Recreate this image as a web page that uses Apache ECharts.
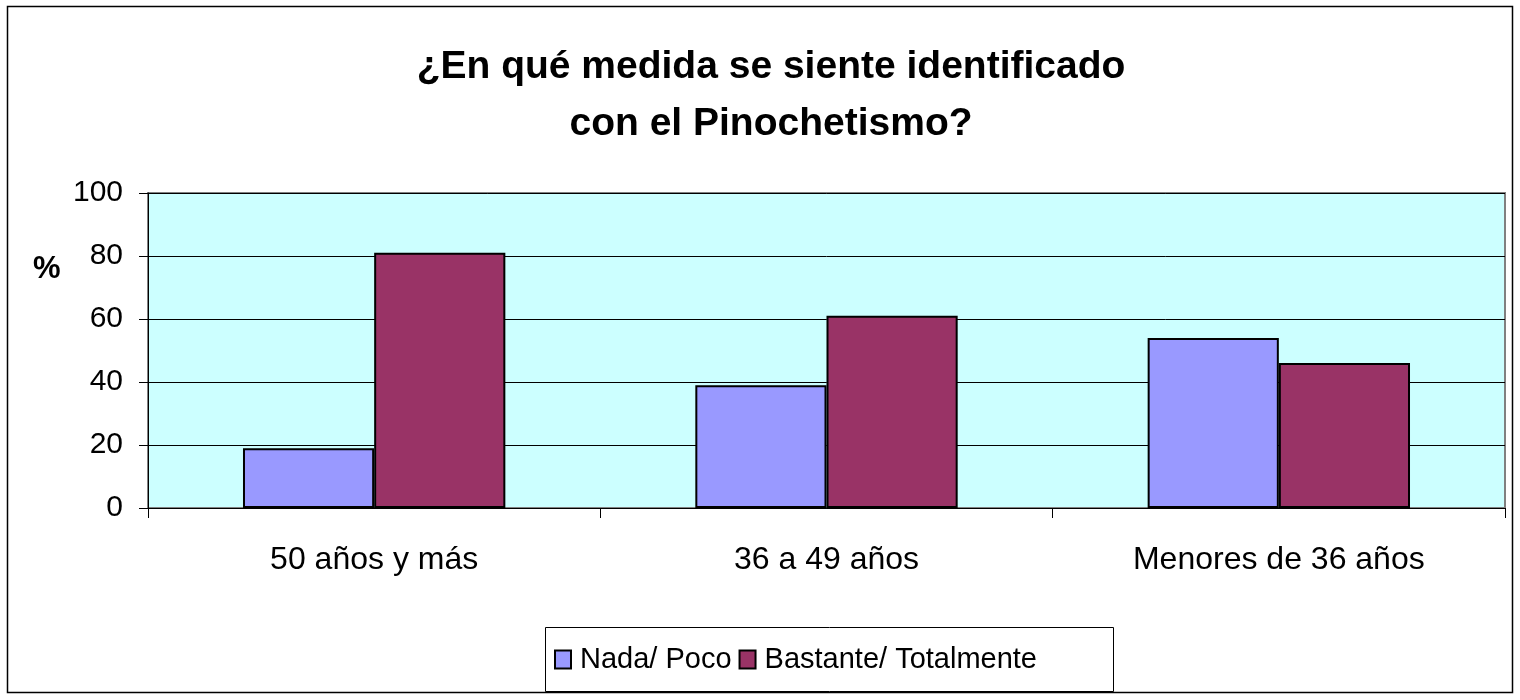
<!DOCTYPE html>
<html>
<head>
<meta charset="utf-8">
<script src="https://cdn.jsdelivr.net/npm/echarts@6/dist/echarts.min.js"></script>
<style>
  html, body { margin: 0; padding: 0; background: #fff; }
  #chart { width: 1520px; height: 700px; }
</style>
</head>
<body>
<div id="chart"></div>
<script>
// datos
const categories = ['50 años y más', '36 a 49 años', 'Menores de 36 años'];
const seriesNames = ['Nada/ Poco', 'Bastante/ Totalmente'];
const nadaPoco = [19, 39, 54];
const bastanteTotal = [81, 61, 46];
const colors = ['#9999FF', '#993366'];

const chart = echarts.init(document.getElementById('chart'));
const font = 'Liberation Sans, Arial, sans-serif';

const option = {
  backgroundColor: '#fff',
  animation: false,
  textStyle: { fontFamily: font },
  title: {
    text: '¿En qué medida se siente identificado\ncon el Pinochetismo?',
    left: 766,
    top: 34,
    textAlign: 'center',
    textStyle: {
      fontFamily: font,
      fontSize: 39,
      fontWeight: 'bold',
      color: '#000',
      lineHeight: 57
    }
  },
  graphic: [
    // marco exterior
    {
      type: 'rect',
      shape: { x: 7.5, y: 6.5, width: 1505, height: 686 },
      style: { fill: 'none', stroke: '#000', lineWidth: 1.5 },
      silent: true,
      z: -1
    },
    // caja de la leyenda
    {
      type: 'rect',
      shape: { x: 545.5, y: 627.5, width: 568, height: 64 },
      style: { fill: 'none', stroke: '#000', lineWidth: 1 },
      silent: true
    },
    // título del eje y
    {
      type: 'text',
      left: 33,
      top: 254,
      style: { text: '%', fontFamily: font, fontSize: 31, fontWeight: 'bold', fill: '#000' },
      silent: true
    }
  ],
  legend: {
    data: seriesNames,
    left: 549,
    top: 640,
    padding: 5,
    itemGap: 7,
    itemWidth: 16,
    itemHeight: 18,
    icon: 'rect',
    textStyle: { fontFamily: font, fontSize: 29, color: '#000', padding: [0, 0, 0, 4] },
    itemStyle: { borderColor: '#000', borderWidth: 2 }
  },
  grid: {
    left: 148,
    right: 15,
    top: 193,
    bottom: 192,
    show: true,
    backgroundColor: '#CCFFFF',
    borderColor: '#808080',
    borderWidth: 2
  },
  xAxis: {
    type: 'category',
    data: categories,
    axisLine: { lineStyle: { color: '#000', width: 1 } },
    axisTick: { show: true, length: 10, lineStyle: { color: '#000' } },
    axisLabel: { fontFamily: font, fontSize: 32, color: '#000', margin: 36 }
  },
  yAxis: {
    type: 'value',
    min: 0,
    max: 100,
    interval: 20,
    axisLine: { show: true, lineStyle: { color: '#000', width: 1 } },
    axisTick: { show: true, length: 9, lineStyle: { color: '#000' } },
    axisLabel: { fontFamily: font, fontSize: 30, color: '#000', margin: 25 },
    splitLine: { show: true, lineStyle: { color: '#000', width: 1 } }
  },
  series: [
    {
      name: seriesNames[0],
      type: 'bar',
      data: nadaPoco,
      barGap: '0%',
      barCategoryGap: '42%',
      itemStyle: { color: colors[0], borderColor: '#000', borderWidth: 2 }
    },
    {
      name: seriesNames[1],
      type: 'bar',
      data: bastanteTotal,
      barGap: '0%',
      barCategoryGap: '42%',
      itemStyle: { color: colors[1], borderColor: '#000', borderWidth: 2 }
    }
  ]
};

chart.setOption(option);
</script>
</body>
</html>
